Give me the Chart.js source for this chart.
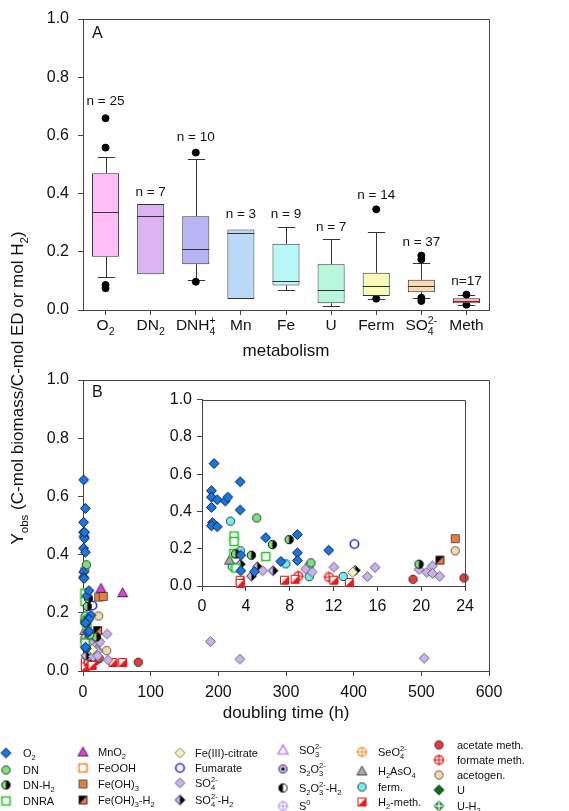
<!DOCTYPE html>
<html>
<head>
<meta charset="utf-8">
<script src="https://cdn.jsdelivr.net/npm/chart.js@4.4.0/dist/chart.umd.min.js"></script>
<style>
  html, body { margin: 0; padding: 0; background: #fff; }
  #wrap { position: relative; width: 569px; height: 811px; overflow: hidden; }
  canvas { position: absolute; }
  #cB { left: 0; top: 0; z-index: 1; }
  #cA { left: 0; top: 0; z-index: 2; }
  #cI { left: 150px; top: 385px; z-index: 3; }
</style>
</head>
<body>
<div id="wrap">
  <canvas id="cB" width="569" height="811"></canvas>
  <canvas id="cA" width="569" height="370"></canvas>
  <canvas id="cI" width="330" height="240"></canvas>
</div>
<script>
// ---- panel A : box plots per metabolism ----
const cats = ['O2', 'DN2', 'DNH4+', 'Mn', 'Fe', 'U', 'Ferm', 'SO42-', 'Meth'];
const catText = ['O_{2}', 'DN_{2}', 'DNH_{4}^{+}', 'Mn', 'Fe', 'U', 'Ferm', 'SO_{4}^{2-}', 'Meth'];
const q1   = [0.183, 0.123, 0.157, 0.038, 0.084, 0.023, 0.048, 0.061, 0.023];
const med  = [0.337, 0.323, 0.208, 0.265, 0.100, 0.068, 0.084, 0.082, 0.032];
const q3   = [0.470, 0.364, 0.322, 0.277, 0.228, 0.157, 0.128, 0.104, 0.040];
const whLo = [0.114, null, 0.103, null, 0.069, 0.014, 0.039, 0.042, 0.018];
const whHi = [0.527, null, 0.520, null, 0.286, 0.243, 0.267, 0.160, 0.050];
const outliers = [
  ['O2', 0.659], ['O2', 0.558], ['O2', 0.086], ['O2', 0.075],
  ['DNH4+', 0.541], ['DNH4+', 0.097],
  ['Ferm', 0.346], ['Ferm', 0.039],
  ['SO42-', 0.187], ['SO42-', 0.174], ['SO42-', 0.042], ['SO42-', 0.031],
  ['Meth', 0.053], ['Meth', 0.018]
];
const nCount = [25, 7, 10, 3, 9, 7, 14, 37, 17];
const nLabelY = [0.716, 0.405, 0.592, 0.329, 0.330, 0.283, 0.395, 0.231, 0.100];
const boxFill = ['#ffbdf7', '#dbb3f2', '#b9b5f5', '#b9d9f7', '#b8f7f7', '#b8f7de', '#f9f9b9', '#f9d8b4', '#f2b8b8'];

// ---- panel B : yield vs doubling time (h, Yobs) ----
const o2 = [[1.10,0.657],[0.86,0.511],[0.86,0.477],[1.39,0.463],[2.12,0.456],[2.36,0.477],[3.48,0.559],
  [0.86,0.422],[3.48,0.408],[0.95,0.340],[0.86,0.323],[1.39,0.318],[5.81,0.259],[8.70,0.276],[11.56,0.192],
  [8.70,0.178],[3.54,0.165],[7.19,0.132],[8.70,0.137],[4.78,0.077],[3.54,0.082]];
const dn = [[4.99,0.365],[9.94,0.124]];
const dnH2 = [[3.06,0.172],[4.50,0.165],[6.42,0.222],[7.95,0.249],[19.8,0.117]];
const dnra = [[2.93,0.268],[2.93,0.239],[2.90,0.175],[5.82,0.158],[3.10,0.096]];
const mno2 = [[26.6,0.284],[58.6,0.269]];
const feooh = [];
const feoh3 = [[23.1,0.254],[30.0,0.256]];
const feoh3H2 = [[21.7,0.139]];
const feCitrate = [[13.74,0.074]];
const fumarate = [[13.9,0.225]];
const so4 = [[5.54,0.082],[9.46,0.091],[10.05,0.074],[12.03,0.101],[15.08,0.050],[15.78,0.099],[19.8,0.089],
  [20.5,0.074],[21.02,0.108],[21.02,0.068],[21.68,0.052],[25.0,0.100],[35.5,0.127],[37.0,0.038],
  [188.6,0.101],[231.9,0.041],[504.2,0.044]];
const so4H2 = [[3.50,0.117],[4.51,0.053],[5.04,0.103],[6.48,0.082],[13.98,0.084]];
const so3 = [];
const s2o3 = [];
const s2o3H2 = [];
const s0 = [];
const seo4 = [];
const h2aso4 = [[2.51,0.139]];
const ferm = [[2.60,0.348],[3.50,0.189],[2.75,0.104],[7.65,0.119],[9.78,0.110],[9.78,0.050],[12.88,0.051]];
const h2meth = [[3.48,0.031],[3.48,0.014],[7.52,0.031],[8.49,0.036],[12.03,0.031],[13.44,0.019],[44.5,0.029],[58.6,0.029]];
const acetMeth = [[19.25,0.036],[23.9,0.043],[81.7,0.030]];
const formMeth = [[8.79,0.053],[11.58,0.048]];
const acetogen = [[23.1,0.189],[35.0,0.070]];
const uran = [];
const uranH2 = [];

const FONT = '"Liberation Sans", Arial, Helvetica, sans-serif';
Chart.defaults.font.family = FONT;
Chart.defaults.color = '#111';

// little text helper for sub/superscripts: X_{2}^{2-}
function parseRich(s) {
  const out = []; const re = /([_^])\{([^}]*)\}/g; let last = 0, m;
  while ((m = re.exec(s))) {
    if (m.index > last) out.push({ t: s.slice(last, m.index), m: 0 });
    out.push({ t: m[2], m: m[1] === '_' ? 1 : 2 });
    last = re.lastIndex;
  }
  if (last < s.length) out.push({ t: s.slice(last), m: 0 });
  return out;
}
function drawRich(ctx, s, x, y, size, align) {
  const parts = parseRich(s), sm = size * 0.68;
  const setF = p => { ctx.font = (p.m ? sm : size) + 'px ' + FONT; };
  let w = 0;
  for (let i = 0; i < parts.length; i++) {
    const p = parts[i]; setF(p); p.w = ctx.measureText(p.t).width; p.x = w;
    const q = parts[i + 1];
    if (p.m === 1 && q && q.m === 2) {
      setF(q); q.w = ctx.measureText(q.t).width; q.x = w;
      w += Math.max(p.w, q.w); i++; continue;
    }
    w += p.w;
  }
  const x0 = align === 'center' ? x - w / 2 : align === 'right' ? x - w : x;
  ctx.textAlign = 'left'; ctx.textBaseline = 'alphabetic';
  const base = y + size * 0.35;
  parts.forEach(p => {
    setF(p);
    const dy = p.m === 1 ? size * 0.28 : p.m === 2 ? -size * 0.42 : 0;
    ctx.fillText(p.t, x0 + p.x, base + dy);
  });
}

// marker images used as pointStyle
function marker(shape, variant, fill, stroke, extra) {
  const c = document.createElement('canvas'); c.width = 13; c.height = 13;
  const g = c.getContext('2d'); const m = 6.5;
  const path = () => {
    g.beginPath();
    if (shape === 'diamond') { g.moveTo(m, m - 5); g.lineTo(m + 5, m); g.lineTo(m, m + 5); g.lineTo(m - 5, m); g.closePath(); }
    else if (shape === 'circle') { g.arc(m, m, 4.2, 0, Math.PI * 2); }
    else if (shape === 'square') { g.rect(m - 4, m - 4, 8, 8); }
    else if (shape === 'triangle') { g.moveTo(m, m - 5); g.lineTo(m + 5, m + 4); g.lineTo(m - 5, m + 4); g.closePath(); }
  };
  g.lineWidth = 1; g.strokeStyle = stroke;
  if (variant === 'open' || variant === 'cross') {
    g.lineWidth = 1.6; g.fillStyle = '#fff'; path(); g.fill(); g.stroke();
    if (variant === 'cross') {
      g.lineWidth = 1.2; g.beginPath();
      g.moveTo(m - 5.5, m); g.lineTo(m + 5.5, m); g.moveTo(m, m - 5.5); g.lineTo(m, m + 5.5); g.stroke();
    }
    return c;
  }
  g.fillStyle = fill; path(); g.fill();
  if (variant === 'half' || variant === 'diag' || variant === 'dot' || variant === 'plus') {
    g.save(); path(); g.clip(); g.fillStyle = extra;
    if (variant === 'half') g.fillRect(m, 0, 7, 13);
    if (variant === 'diag') { g.beginPath(); g.moveTo(13, 0); g.lineTo(13, 13); g.lineTo(0, 13); g.closePath(); g.fill(); }
    if (variant === 'dot') { g.beginPath(); g.arc(m, m, 1.6, 0, Math.PI * 2); g.fill(); }
    if (variant === 'plus') { g.fillRect(m - 0.7, 0, 1.4, 13); g.fillRect(0, m - 0.7, 13, 1.4); }
    g.restore();
  }
  path(); g.stroke();
  return c;
}

const series = [
  { name: 'O_{2}', data: o2, img: marker('diamond', 'fill', '#1a76e0', '#10203c') },
  { name: 'DN', data: dn, img: marker('circle', 'fill', '#7be37b', '#333') },
  { name: 'DN-H_{2}', data: dnH2, img: marker('circle', 'half', '#7be37b', '#111', '#000') },
  { name: 'DNRA', data: dnra, img: marker('square', 'open', '#fff', '#2ec02e') },
  { name: 'MnO_{2}', data: mno2, img: marker('triangle', 'fill', '#e23ee2', '#333') },
  { name: 'FeOOH', data: feooh, img: marker('square', 'open', '#fff', '#f08838') },
  { name: 'Fe(OH)_{3}', data: feoh3, img: marker('square', 'fill', '#f07a3c', '#555') },
  { name: 'Fe(OH)_{3}-H_{2}', data: feoh3H2, img: marker('square', 'diag', '#000', '#333', '#f07a3c') },
  { name: 'Fe(III)-citrate', data: feCitrate, img: marker('diamond', 'fill', '#f8f4b8', '#777') },
  { name: 'Fumarate', data: fumarate, img: marker('circle', 'open', '#fff', '#2a2af0') },
  { name: 'SO_{4}^{2-}', data: so4, img: marker('diamond', 'fill', '#c9b1ef', '#666') },
  { name: 'SO_{4}^{2-}-H_{2}', data: so4H2, img: marker('diamond', 'half', '#c9b1ef', '#333', '#000') },
  { name: 'SO_{3}^{2-}', data: so3, img: marker('triangle', 'open', '#fff', '#c58af5') },
  { name: 'S_{2}O_{3}^{2-}', data: s2o3, img: marker('circle', 'dot', '#c9b1ef', '#333', '#000') },
  { name: 'S_{2}O_{3}^{2-}-H_{2}', data: s2o3H2, img: marker('circle', 'half', '#000', '#111', '#fff') },
  { name: 'S^{0}', data: s0, img: marker('circle', 'cross', '#fff', '#c8a2f5') },
  { name: 'SeO_{4}^{2-}', data: seo4, img: marker('circle', 'cross', '#fff', '#f59a3c') },
  { name: 'H_{2}AsO_{4}', data: h2aso4, img: marker('triangle', 'fill', '#a8a8a8', '#444') },
  { name: 'ferm.', data: ferm, img: marker('circle', 'fill', '#6ff0f0', '#333') },
  { name: 'H_{2}-meth.', data: h2meth, img: marker('square', 'diag', '#fff', '#e01010', '#f01818') },
  { name: 'acetate meth.', data: acetMeth, img: marker('circle', 'fill', '#e83a3a', '#333') },
  { name: 'formate meth.', data: formMeth, img: marker('circle', 'cross', '#fff', '#f02020') },
  { name: 'acetogen.', data: acetogen, img: marker('circle', 'fill', '#f6d6aa', '#555') },
  { name: 'U', data: uran, img: marker('diamond', 'fill', '#0e6e14', '#033') },
  { name: 'U-H_{2}', data: uranH2, img: marker('diamond', 'plus', '#1a8a1a', '#063', '#fff') }
];

// legend grid: marker x, text x, row y's (series taken in order)
const legendCols = [
  { mx: 6, tx: 23, ys: [753, 770, 785, 801] },
  { mx: 83, tx: 98, ys: [752, 768, 784, 800] },
  { mx: 180, tx: 195, ys: [753, 768, 783, 800] },
  { mx: 283, tx: 299, ys: [750, 769, 788, 806] },
  { mx: 362, tx: 378, ys: [752, 771, 787, 802] },
  { mx: 439, tx: 457, ys: [745, 760, 775, 790, 806] }
];

const AXIS = '#444';

const framePlugin = {
  id: 'frame',
  afterDatasetsDraw(chart) {
    const a = chart.chartArea, ctx = chart.ctx;
    ctx.save(); ctx.strokeStyle = AXIS; ctx.lineWidth = 1;
    ctx.beginPath();
    ctx.moveTo(Math.round(a.left) + 0.5, Math.round(a.top) + 0.5);
    ctx.lineTo(Math.round(a.right) + 0.5, Math.round(a.top) + 0.5);
    ctx.lineTo(Math.round(a.right) + 0.5, Math.round(a.bottom) + 0.5);
    ctx.stroke(); ctx.restore();
  }
};

function axisOpts(extra) {
  return Object.assign({
    grid: { drawOnChartArea: false, tickLength: 5, color: AXIS },
    border: { color: AXIS, width: 1 }
  }, extra);
}

// ---------- chart A ----------
const boxPlugin = {
  id: 'boxes',
  beforeDatasetsDraw(chart) {
    const { ctx, scales: { x, y } } = chart; const bars = chart.getDatasetMeta(0).data;
    ctx.save(); ctx.strokeStyle = '#333'; ctx.lineWidth = 1;
    cats.forEach((c, i) => {
      const px = Math.round(x.getPixelForValue(i)) + 0.5, hw = bars[i].width * 0.32;
      [[whHi[i], q3[i]], [whLo[i], q1[i]]].forEach(([w, q]) => {
        if (w == null) return;
        const yw = Math.round(y.getPixelForValue(w)) + 0.5;
        ctx.beginPath();
        ctx.moveTo(px, y.getPixelForValue(q)); ctx.lineTo(px, yw);
        ctx.moveTo(px - hw, yw); ctx.lineTo(px + hw, yw);
        ctx.stroke();
      });
    });
    ctx.restore();
  },
  afterDatasetsDraw(chart) {
    const { ctx, scales: { x, y } } = chart; const bars = chart.getDatasetMeta(0).data;
    ctx.save(); ctx.fillStyle = '#111';
    cats.forEach((c, i) => {
      const px = x.getPixelForValue(i), hw = bars[i].width / 2;
      const ym = Math.round(y.getPixelForValue(med[i])) + 0.5;
      ctx.strokeStyle = i === 8 ? '#a02020' : '#333'; ctx.lineWidth = 1;
      ctx.beginPath(); ctx.moveTo(px - hw, ym); ctx.lineTo(px + hw, ym); ctx.stroke();
      const lbl = i === 8 ? 'n=' + nCount[i] : 'n = ' + nCount[i];
      ctx.font = '13.5px ' + FONT; ctx.textAlign = 'center'; ctx.textBaseline = 'middle';
      ctx.fillText(lbl, px, y.getPixelForValue(nLabelY[i]));
      drawRich(ctx, catText[i], px, 325, 15.5, 'center');
    });
    ctx.font = '16px ' + FONT; ctx.textAlign = 'left'; ctx.textBaseline = 'middle';
    ctx.fillText('A', 92, 34);
    ctx.restore();
  }
};

new Chart(document.getElementById('cA'), {
  type: 'bar',
  data: {
    labels: cats,
    datasets: [
      {
        type: 'bar', data: cats.map((c, i) => [q1[i], q3[i]]),
        backgroundColor: boxFill, borderColor: '#333', borderWidth: 1, borderSkipped: false,
        barPercentage: 0.6, categoryPercentage: 1
      },
      {
        type: 'line', data: outliers.map(o => ({ x: o[0], y: o[1] })), showLine: false,
        pointRadius: 3.5, pointBackgroundColor: '#000', pointBorderColor: '#000', clip: false
      }
    ]
  },
  options: {
    animation: false, responsive: false, events: [],
    layout: { padding: { top: 19, right: 80, bottom: 0, left: 0 } },
    plugins: { legend: { display: false }, tooltip: { enabled: false } },
    scales: {
      x: axisOpts({
        grid: { drawOnChartArea: false, tickLength: 5, color: AXIS, offset: false },
        ticks: { display: false },
        title: { display: true, text: 'metabolism', font: { size: 17 }, color: '#111', padding: { top: 0, bottom: 8 } },
        afterFit: s => { s.height = 60; }
      }),
      y: axisOpts({
        min: 0, max: 1,
        ticks: { stepSize: 0.2, callback: v => v.toFixed(1), font: { size: 16 }, color: '#111', padding: 9 },
        afterFit: s => { s.width = 83; }
      })
    }
  },
  plugins: [boxPlugin, framePlugin]
});

// ---------- chart B ----------
function pointSets(maxX) {
  return series.map(s => ({
    label: s.name,
    data: s.data.filter(p => p[0] <= maxX).map(p => ({ x: p[0], y: p[1] })),
    pointStyle: s.img, pointRadius: 5, clip: false
  }));
}

const decorB = {
  id: 'decorB',
  afterDraw(chart) {
    const ctx = chart.ctx;
    ctx.save(); ctx.fillStyle = '#111';
    ctx.font = '16px ' + FONT; ctx.textAlign = 'left'; ctx.textBaseline = 'middle';
    ctx.fillText('B', 92, 393);
    ctx.save(); ctx.translate(17, 388); ctx.rotate(-Math.PI / 2);
    drawRich(ctx, 'Y_{obs} (C-mol biomass/C-mol ED or mol H_{2})', 0, 0, 17, 'center');
    ctx.restore();
    let k = 0;
    legendCols.forEach(col => {
      col.ys.forEach(yy => {
        const s = series[k++];
        ctx.drawImage(s.img, col.mx - 6.5, yy - 6.5);
        drawRich(ctx, s.name, col.tx, yy, 11, 'left');
      });
    });
    ctx.restore();
  }
};

new Chart(document.getElementById('cB'), {
  type: 'scatter',
  data: { datasets: pointSets(1e9) },
  options: {
    animation: false, responsive: false, events: [],
    layout: { padding: { top: 380, right: 80, bottom: 71, left: 0 } },
    plugins: { legend: { display: false }, tooltip: { enabled: false } },
    scales: {
      x: axisOpts({
        type: 'linear', min: 0, max: 600,
        ticks: { stepSize: 100, font: { size: 16 }, color: '#111', padding: 7 },
        title: { display: true, text: 'doubling time (h)', font: { size: 17 }, color: '#111', padding: { top: 0, bottom: 16 } },
        afterFit: s => { s.height = 69; }
      }),
      y: axisOpts({
        min: 0, max: 1,
        ticks: { stepSize: 0.2, callback: v => v.toFixed(1), font: { size: 16 }, color: '#111', padding: 9 },
        afterFit: s => { s.width = 83; }
      })
    }
  },
  plugins: [framePlugin, decorB]
});

// ---------- inset (0-24 h) ----------
new Chart(document.getElementById('cI'), {
  type: 'scatter',
  data: { datasets: pointSets(24) },
  options: {
    animation: false, responsive: false, events: [],
    layout: { padding: { top: 7, right: 7, bottom: 0, left: 0 } },
    plugins: { legend: { display: false }, tooltip: { enabled: false } },
    scales: {
      x: axisOpts({
        type: 'linear', min: 0, max: 24,
        ticks: { stepSize: 4, font: { size: 16 }, color: '#111', padding: 6 },
        afterFit: s => { s.height = 39; }
      }),
      y: axisOpts({
        min: 0, max: 1,
        ticks: { stepSize: 0.2, callback: v => v.toFixed(1), font: { size: 16 }, color: '#111', padding: 5 },
        afterFit: s => { s.width = 52; }
      })
    }
  },
  plugins: [framePlugin]
});
</script>
</body>
</html>
